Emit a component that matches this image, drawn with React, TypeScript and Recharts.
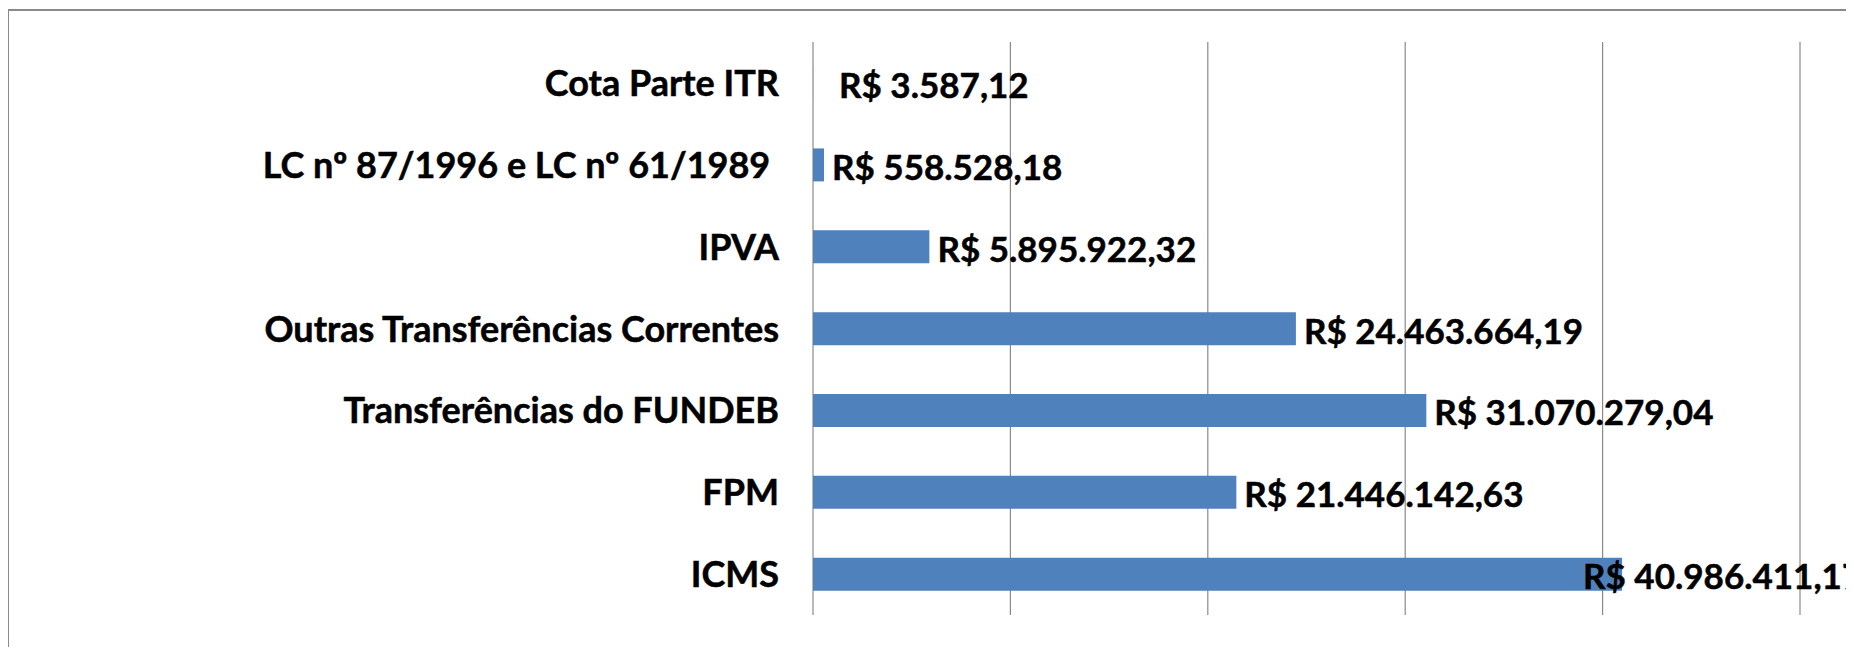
import React from 'react';
import { BarChart, Bar, XAxis, YAxis, CartesianGrid, LabelList } from 'recharts';

const categories = [
  'Cota Parte ITR',
  'LC nº 87/1996 e LC nº 61/1989 ',
  'IPVA',
  'Outras Transferências Correntes',
  'Transferências do FUNDEB',
  'FPM',
  'ICMS',
];
const values = [3587.12, 558528.18, 5895922.32, 24463664.19, 31070279.04, 21446142.63, 40986411.17];
const xTicks = [0, 10000000, 20000000, 30000000, 40000000, 50000000];
const boundaryTicks = [0, 1, 2, 3, 4, 5, 6, 7];

// label nudges (layout only), keyed by category index
const labelNudge: Record<number, number> = { 0: 18, 6: -47 };

const data = categories.map((name, i) => ({ name, value: values[i] }));

function brl(v: number): string {
  const [i, d] = v.toFixed(2).split('.');
  return 'R$ ' + i.replace(/\B(?=(\d{3})+(?!\d))/g, '.') + ',' + d;
}

const FONT = 'Lato, "Open Sans", sans-serif';
const GRID = '#8a8a8a';

const CategoryTick = (props: any) => {
  const { x, y, payload } = props;
  return (
    <text
      x={x}
      y={y}
      dy={13}
      textAnchor="end"
      style={{ whiteSpace: 'pre' }}
      fontFamily={FONT}
      fontWeight={700}
      fontSize={36}
      fill="#000"
      stroke="#000"
      strokeWidth={0.5}
    >
      {payload.value}
    </text>
  );
};

const ValueLabel = (props: any) => {
  const { x, y, width, height, value, index } = props;
  const nx = Number(x) + Number(width) + 8 + (labelNudge[index] || 0);
  const ny = Number(y) + Number(height) / 2 + 15;
  return (
    <text
      x={nx}
      y={ny}
      fontFamily={FONT}
      fontWeight={700}
      fontSize={35}
      fill="#000"
      stroke="#000"
      strokeWidth={0.5}
      style={{ whiteSpace: 'pre' }}
    >
      {brl(Number(value))}
    </text>
  );
};

export default function App() {
  return (
    <div
      style={{
        position: 'relative',
        left: -1,
        top: 1,
        width: 1846,
        height: 639,
        overflow: 'hidden',
        borderTop: `2px solid ${GRID}`,
        borderLeft: `2px solid ${GRID}`,
        boxSizing: 'border-box',
        background: '#fff',
      }}
    >
      <BarChart
        width={2000}
        height={637}
        layout="vertical"
        data={data}
        margin={{ top: 31, right: 209, bottom: 33, left: 0 }}
        barCategoryGap="30%"
      >
        <CartesianGrid yAxisId="cat" horizontal={false} vertical stroke={GRID} strokeWidth={1.2} />
        <XAxis type="number" domain={[0, 50000000]} ticks={xTicks} hide />
        <YAxis
          yAxisId="bounds"
          type="number"
          domain={[0, 7]}
          ticks={boundaryTicks}
          tick={false}
          tickSize={12}
          width={0}
          axisLine={{ stroke: GRID, strokeWidth: 1.2 }}
          tickLine={{ stroke: GRID, strokeWidth: 1.2 }}
        />
        <YAxis
          yAxisId="cat"
          type="category"
          dataKey="name"
          width={804}
          axisLine={false}
          tickLine={false}
          tickMargin={28}
          tick={<CategoryTick />}
          interval={0}
        />
        <Bar yAxisId="cat" dataKey="value" fill="#4F81BD" isAnimationActive={false}>
          <LabelList dataKey="value" content={<ValueLabel />} />
        </Bar>
      </BarChart>
    </div>
  );
}
